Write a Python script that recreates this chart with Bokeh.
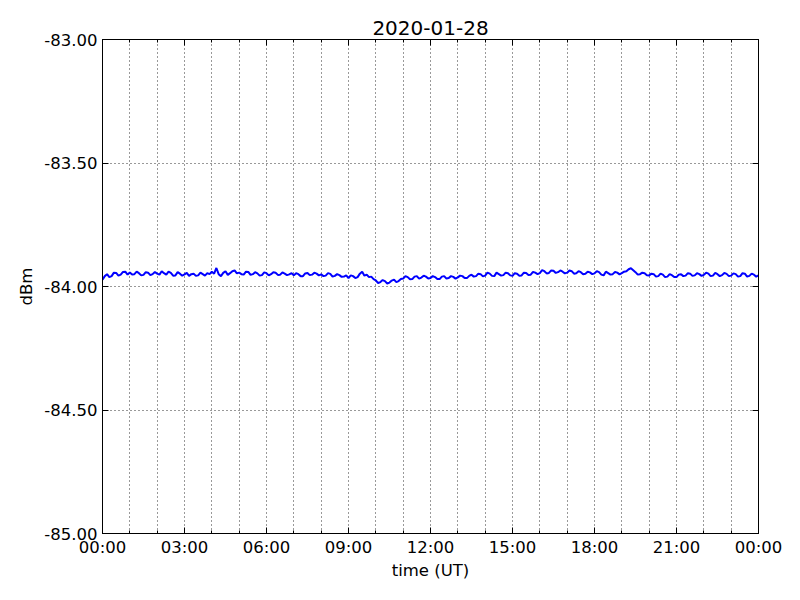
from bokeh.plotting import figure
from bokeh.models import LinearAxis, FixedTicker, Range1d, CustomLabelingPolicy
from bokeh.embed import file_html
from bokeh.resources import INLINE

title_text = "2020-01-28"
x_label = "time (UT)"
y_label = "dBm"

# samples on the 10-minute marks (00:00 ... 24:00)
dbm_10min = [
    -83.972, -83.950, -83.958, -83.945, -83.952, -83.940,
    -83.943, -83.950, -83.946, -83.953, -83.944, -83.950,
    -83.948, -83.938, -83.952, -83.945, -83.955, -83.948,
    -83.951, -83.957, -83.948, -83.955, -83.950, -83.946,
    -83.940, -83.925, -83.958, -83.938, -83.946, -83.935,
    -83.944, -83.952, -83.941, -83.950, -83.947, -83.954,
    -83.946, -83.950, -83.944, -83.952, -83.948, -83.951,
    -83.955, -83.950, -83.958, -83.945, -83.952, -83.948,
    -83.951, -83.956, -83.949, -83.957, -83.954, -83.960,
    -83.966, -83.958, -83.962, -83.940, -83.952, -83.960,
    -83.975, -83.982, -83.978, -83.984, -83.972, -83.978,
    -83.968, -83.962, -83.970, -83.958, -83.964, -83.960,
    -83.966, -83.962, -83.970, -83.958, -83.966, -83.961,
    -83.963, -83.958, -83.966, -83.952, -83.958, -83.950,
    -83.956, -83.948, -83.958, -83.950, -83.954, -83.946,
    -83.957, -83.948, -83.955, -83.945, -83.952, -83.944,
    -83.946, -83.938, -83.945, -83.936, -83.942, -83.940,
    -83.944, -83.938, -83.946, -83.942, -83.948, -83.943,
    -83.947, -83.942, -83.955, -83.946, -83.950, -83.944,
    -83.946, -83.938, -83.926, -83.942, -83.950, -83.946,
    -83.955, -83.950, -83.958, -83.952, -83.960, -83.954,
    -83.962, -83.950, -83.956, -83.948, -83.955, -83.950,
    -83.953, -83.948, -83.956, -83.950, -83.954, -83.949,
    -83.956, -83.950, -83.958, -83.948, -83.957, -83.952,
    -83.955,
]
# samples at 5 minutes past each 10-minute mark
dbm_5min = [
    -83.958, -83.962, -83.944, -83.956, -83.941, -83.952,
    -83.951, -83.940, -83.955, -83.942, -83.954, -83.941,
    -83.952, -83.946, -83.940, -83.956, -83.942, -83.956,
    -83.945, -83.950, -83.957, -83.944, -83.956, -83.950,
    -83.948, -83.950, -83.945, -83.953, -83.938, -83.947,
    -83.950, -83.940, -83.953, -83.942, -83.956, -83.943,
    -83.955, -83.942, -83.953, -83.943, -83.954, -83.946,
    -83.946, -83.958, -83.947, -83.954, -83.944, -83.955,
    -83.958, -83.946, -83.960, -83.950, -83.961, -83.955,
    -83.955, -83.966, -83.948, -83.956, -83.962, -83.970,
    -83.986, -83.974, -83.988, -83.976, -83.982, -83.970,
    -83.958, -83.971, -83.960, -83.968, -83.956, -83.968,
    -83.958, -83.970, -83.960, -83.968, -83.958, -83.968,
    -83.956, -83.966, -83.957, -83.960, -83.948, -83.959,
    -83.944, -83.957, -83.944, -83.956, -83.944, -83.955,
    -83.946, -83.956, -83.944, -83.953, -83.941, -83.950,
    -83.934, -83.947, -83.935, -83.945, -83.935, -83.947,
    -83.935, -83.948, -83.938, -83.950, -83.940, -83.950,
    -83.938, -83.952, -83.940, -83.952, -83.941, -83.951,
    -83.940, -83.930, -83.934, -83.952, -83.944, -83.954,
    -83.948, -83.960, -83.948, -83.962, -83.950, -83.962,
    -83.952, -83.958, -83.946, -83.957, -83.946, -83.957,
    -83.944, -83.958, -83.945, -83.958, -83.945, -83.958,
    -83.947, -83.960, -83.946, -83.960, -83.948, -83.960,
]

x_major = [0, 3, 6, 9, 12, 15, 18, 21, 24]
x_major_labels = ["00:00", "03:00", "06:00", "09:00", "12:00", "15:00", "18:00", "21:00", "00:00"]
x_minor = list(range(25))
y_major = [-85.0, -84.5, -84.0, -83.5, -83.0]
y_major_labels = ["-85.00", "-84.50", "-84.00", "-83.50", "-83.00"]

# interleave into a 5-minute series (hours as x)
hours, dbm = [], []
for i, v in enumerate(dbm_10min):
    hours.append(i / 6)
    dbm.append(v)
    if i < len(dbm_5min):
        hours.append(i / 6 + 1 / 12)
        dbm.append(dbm_5min[i])

FONT = "DejaVu Sans"

p = figure(width=800, height=600, output_backend="svg", toolbar_location=None,
           x_range=Range1d(0, 24), y_range=Range1d(-85, -83),
           frame_width=656, frame_height=494,
           min_border_left=102, min_border_right=42, min_border_top=39, min_border_bottom=67)
p.background_fill_color = "white"
p.border_fill_color = "white"
p.outline_line_color = "black"
p.outline_line_width = 1
p.outline_line_alpha = 1

p.title.text = title_text
p.title.align = "center"
p.title.text_font = FONT
p.title.text_font_size = "20px"
p.title.text_font_style = "normal"
p.title.text_color = "black"
p.title.standoff = 9

p.line(hours, dbm, line_color="blue", line_width=2)

no_labels = CustomLabelingPolicy(code="""
try { for (const i of [...indices]) indices.unset(i); } catch (e) {}
return indices;
""")

def style_axis(ax, labels=True):
    ax.axis_line_color = "black"
    ax.major_tick_in = 6
    ax.major_tick_out = 0
    ax.minor_tick_in = 3
    ax.minor_tick_out = 0
    ax.major_tick_line_color = "black"
    ax.minor_tick_line_color = "black"
    ax.major_label_text_font = FONT
    ax.major_label_text_font_size = "16.5px"
    ax.major_label_text_color = "black"
    ax.axis_label_text_font = FONT
    ax.axis_label_text_font_size = "16.5px"
    ax.axis_label_text_font_style = "normal"
    ax.axis_label_text_color = "black"
    if not labels:
        ax.major_label_policy = no_labels
        ax.major_label_text_font_size = "0px"
        ax.major_label_standoff = 0

xa = p.xaxis[0]
xa.ticker = FixedTicker(ticks=x_major, minor_ticks=x_minor)
xa.major_label_overrides = {t: l for t, l in zip(x_major, x_major_labels)}
xa.axis_label = x_label
style_axis(xa)
xa.major_label_standoff = 4
xa.axis_label_standoff = 1

ya = p.yaxis[0]
ya.ticker = FixedTicker(ticks=y_major, minor_ticks=[])
ya.major_label_overrides = {t: l for t, l in zip(y_major, y_major_labels)}
ya.axis_label = y_label
style_axis(ya)
ya.major_label_standoff = 5
ya.axis_label_standoff = 5

top = LinearAxis(ticker=FixedTicker(ticks=x_major, minor_ticks=x_minor))
style_axis(top, labels=False)
p.add_layout(top, "above")
right = LinearAxis(ticker=FixedTicker(ticks=y_major, minor_ticks=[]))
style_axis(right, labels=False)
p.add_layout(right, "right")

p.xgrid.ticker = FixedTicker(ticks=x_minor)
p.ygrid.ticker = FixedTicker(ticks=y_major)
for g in (p.xgrid[0], p.ygrid[0]):
    g.grid_line_color = "black"
    g.grid_line_dash = "1 3"
    g.grid_line_width = 1
    g.grid_line_alpha = 0.8

open("out.html", "w").write(file_html(p, INLINE))
